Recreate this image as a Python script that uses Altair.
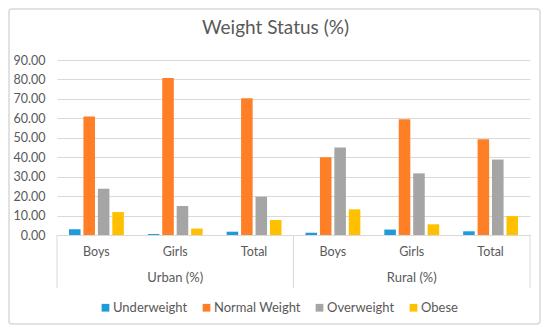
import altair as alt
import pandas as pd

groups = ["Urban (%)", "Rural (%)"]
subs = ["Boys", "Girls", "Total"]
series = ["Underweight", "Normal Weight", "Overweight", "Obese"]
colors = ["#1F9BDB", "#FF7F27", "#A5A5A5", "#FFC000"]
title_text = ["Weight Status (%)"]

underweight = [2.9, 0.5, 1.7, 1.2, 2.8, 1.9]
normal = [61.0, 80.8, 70.3, 40.0, 59.5, 49.3]
overweight = [23.8, 14.9, 19.7, 45.0, 31.7, 38.8]
obese = [11.8, 3.3, 7.7, 13.2, 5.5, 9.7]
values_by_series = [underweight, normal, overweight, obese]

keys = [g + "|" + s for g in groups for s in subs]
rows = []
for si, name in enumerate(series):
    for ki, k in enumerate(keys):
        rows.append({"key": k, "series": name, "value": values_by_series[si][ki]})
df = pd.DataFrame(rows)

W, H = 473, 175
FONT = "Lato"
GRAY = "#595959"
LINE = "#D9D9D9"

xscale = alt.Scale(domain=keys, paddingInner=0, paddingOuter=0)

bars = alt.Chart(df).mark_bar().encode(
    x=alt.X("key:N", scale=xscale, sort=keys,
            axis=alt.Axis(title=None, labelExpr="split(datum.value, '|')[1]",
                          labelAngle=0, ticks=False, domainColor=LINE,
                          labelPadding=10, labelFontSize=12.5, labelColor=GRAY,
                          labelFont=FONT, grid=False)),
    xOffset=alt.XOffset("series:N", sort=series,
                        scale=alt.Scale(paddingInner=0.2, paddingOuter=0.83)),
    y=alt.Y("value:Q", scale=alt.Scale(domain=[0, 90]),
            axis=alt.Axis(title=None, format=".2f", values=list(range(0, 91, 10)),
                          domain=False, ticks=False, gridColor=LINE,
                          labelColor=GRAY, labelFontSize=12.5, labelFont=FONT,
                          labelPadding=12)),
    color=alt.Color("series:N", sort=series,
                    scale=alt.Scale(domain=series, range=colors),
                    legend=alt.Legend(title=None, orient="none", direction="horizontal",
                                      columns=4, legendX=42, legendY=241,
                                      symbolType="square", symbolSize=60,
                                      symbolStrokeWidth=0, labelFont=FONT,
                                      labelFontSize=13, labelColor=GRAY,
                                      labelOffset=1, columnPadding=12)),
)

grp_df = pd.DataFrame({"key": [groups[0] + "|Girls", groups[1] + "|Girls"], "label": groups})
grp = alt.Chart(grp_df).mark_text(font=FONT, fontSize=13, color=GRAY, baseline="middle").encode(
    x=alt.X("key:N", scale=xscale, sort=keys),
    y=alt.value(H + 43),
    text="label:N",
)

sep_left = alt.Chart(pd.DataFrame({"key": [keys[0], keys[3]]})).mark_rule(color=LINE, strokeWidth=1).encode(
    x=alt.X("key:N", scale=xscale, sort=keys, bandPosition=0),
    y=alt.value(H), y2=alt.value(H + 53),
)
sep_right = alt.Chart(pd.DataFrame({"key": [keys[5]]})).mark_rule(color=LINE, strokeWidth=1).encode(
    x=alt.X("key:N", scale=xscale, sort=keys, bandPosition=1),
    y=alt.value(H), y2=alt.value(H + 53),
)

border = alt.Chart(pd.DataFrame({"a": [0]})).mark_rect(
    fill=None, stroke=LINE, strokeWidth=1.5, cornerRadius=3
).encode(x=alt.value(-48), x2=alt.value(W + 10), y=alt.value(-51), y2=alt.value(H + 89))

title = alt.Chart(pd.DataFrame({"t": title_text})).mark_text(
    font=FONT, fontSize=19, color=GRAY, baseline="middle", align="center"
).encode(x=alt.value(W / 2 - 18), y=alt.value(-32), text="t:N")

chart = alt.layer(border, bars, grp, sep_left, sep_right, title).properties(
    width=W, height=H,
    autosize=alt.AutoSizeParams(type="none"),
    padding={"left": 49, "top": 52, "right": 12, "bottom": 91},
).configure_view(stroke=None).resolve_scale(x="shared")

chart.save("out.html", embed_options={"renderer": "svg", "actions": False})
